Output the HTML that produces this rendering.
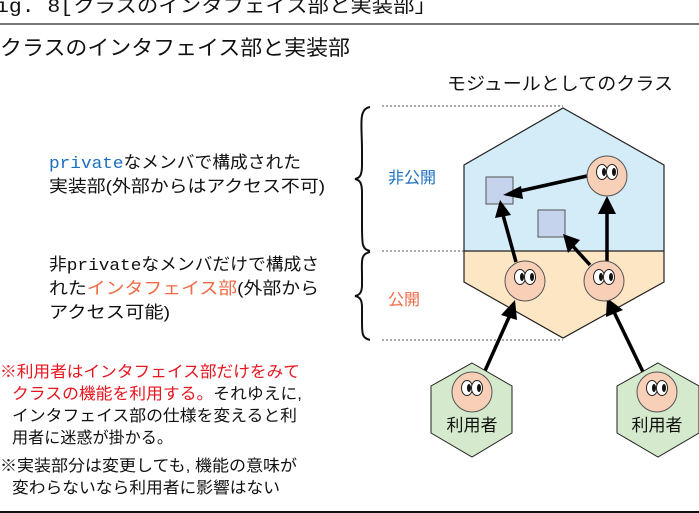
<!DOCTYPE html>
<html><head><meta charset="utf-8"><style>
html,body{margin:0;padding:0;background:#fff;}
svg{display:block;font-family:"Liberation Sans","Noto Sans CJK JP",sans-serif;}
</style></head><body>
<svg width="699" height="513" viewBox="0 0 699 513" xmlns="http://www.w3.org/2000/svg">
<defs>
<g id="face">
<circle r="20" fill="#f8d0b8" stroke="#555" stroke-width="1"/>
<ellipse cx="-5" cy="-4" rx="5.5" ry="7.5" fill="#fff" stroke="#222" stroke-width="1"/>
<ellipse cx="5" cy="-4" rx="5.5" ry="7.5" fill="#fff" stroke="#222" stroke-width="1"/>
<ellipse cx="-3" cy="-4" rx="2" ry="4" fill="#111"/>
<ellipse cx="7" cy="-4" rx="2" ry="4" fill="#111"/>
</g>
</defs>
<text x="-4" y="12" font-size="19" font-family="Liberation Mono,Noto Sans CJK JP,monospace" fill="#111" textLength="440" lengthAdjust="spacingAndGlyphs">ig. 8[クラスのインタフェイス部と実装部」</text>
<line x1="0" y1="24" x2="699" y2="24" stroke="#777" stroke-width="2"/>
<text x="0" y="55" font-size="21" fill="#111" textLength="350" lengthAdjust="spacingAndGlyphs">クラスのインタフェイス部と実装部</text>
<text x="447" y="90" font-size="18" fill="#111" textLength="226" lengthAdjust="spacingAndGlyphs">モジュールとしてのクラス</text>

<g stroke="#777" stroke-width="1.2" stroke-dasharray="2,2">
<line x1="382" y1="106" x2="563" y2="106"/>
<line x1="382" y1="251" x2="464" y2="251"/>
<line x1="382" y1="340" x2="563" y2="340"/>
</g>
<path d="M370,107 C358,109 362,125 362,150 L362,165 C362,175 360,178 355,179 C360,180 362,183 362,193 L362,225 C362,245 362,249 370,251" fill="none" stroke="#111" stroke-width="2"/>
<path d="M370,252 C360,254 362,262 362,275 L362,285 C362,292 360,295 355,296 C360,297 362,300 362,307 L362,322 C362,334 362,338 370,340" fill="none" stroke="#111" stroke-width="2"/>

<polygon points="563,108 664,165 664,251 464,251 464,165" fill="#d4ebf8"/>
<polygon points="464,251 664,251 664,282 563,338 464,282" fill="#fde6c4"/>
<polygon points="563,108 664,165 664,282 563,338 464,282 464,165" fill="none" stroke="#222" stroke-width="1.2"/>
<line x1="464" y1="251" x2="664" y2="251" stroke="#222" stroke-width="1.2"/>

<text x="388" y="183" font-size="16" fill="#1a6fc0">非公開</text>
<text x="388" y="305" font-size="16" fill="#ef6a45">公開</text>

<rect x="486" y="177" width="27" height="27" fill="#c5d3ec" stroke="#555" stroke-width="1"/>
<rect x="538" y="210" width="27" height="27" fill="#c5d3ec" stroke="#555" stroke-width="1"/>

<g stroke="#000" stroke-width="3.5">
<line x1="516" y1="262" x2="503" y2="215"/>
<line x1="590" y1="265" x2="570" y2="243"/>
<line x1="607" y1="262" x2="607" y2="210"/>
<line x1="587" y1="176" x2="520" y2="191"/>
<line x1="484" y1="373" x2="510" y2="315"/>
<line x1="645" y1="376" x2="614" y2="312"/>
</g>
<g fill="#000">
<polygon points="500,200 495,218 511,215"/>
<polygon points="563,234 568,253 580,240"/>
<polygon points="607,196 598,214 616,214"/>
<polygon points="503,195 521,186 523,199"/>
<polygon points="515,300 501,315 517,320"/>
<polygon points="607,298 606,317 623,310"/>
</g>

<use href="#face" x="607" y="176"/>
<use href="#face" x="525" y="281"/>
<use href="#face" x="604" y="281"/>

<polygon points="472,363 512,386 512,433 472,457 431,433 431,386" fill="#d5eacc" stroke="#222" stroke-width="1"/>
<polygon points="658,363 699,386 699,433 658,457 617,433 617,386" fill="#d5eacc" stroke="#222" stroke-width="1"/>
<use href="#face" x="472" y="392"/>
<use href="#face" x="657" y="392"/>
<text x="472" y="431" font-size="17" text-anchor="middle" fill="#111">利用者</text>
<text x="657" y="431" font-size="17" text-anchor="middle" fill="#111">利用者</text>

<g font-size="17" fill="#111">
<text x="49" y="168" textLength="252" lengthAdjust="spacingAndGlyphs"><tspan fill="#1a6fc0" font-family="Liberation Mono,monospace">private</tspan>なメンバで構成された</text>
<text x="49" y="192" textLength="276" lengthAdjust="spacingAndGlyphs">実装部(外部からはアクセス不可)</text>
<text x="49" y="270" textLength="270" lengthAdjust="spacingAndGlyphs">非<tspan font-family="Liberation Mono,monospace">private</tspan>なメンバだけで構成さ</text>
<text x="49" y="294" textLength="270" lengthAdjust="spacingAndGlyphs">れた<tspan fill="#ef6a45">インタフェイス部</tspan>(外部から</text>
<text x="49" y="318" textLength="121" lengthAdjust="spacingAndGlyphs">アクセス可能)</text>
</g>
<g font-size="16" fill="#111">
<text x="0" y="377" fill="#e8141e" textLength="300" lengthAdjust="spacingAndGlyphs">※利用者はインタフェイス部だけをみて</text>
<text x="12" y="399" textLength="290" lengthAdjust="spacingAndGlyphs"><tspan fill="#e8141e">クラスの機能を利用する。</tspan>それゆえに,</text>
<text x="12" y="421" textLength="285" lengthAdjust="spacingAndGlyphs">インタフェイス部の仕様を変えると利</text>
<text x="12" y="443" textLength="161" lengthAdjust="spacingAndGlyphs">用者に迷惑が掛かる。</text>
<text x="0" y="471" textLength="297" lengthAdjust="spacingAndGlyphs">※実装部分は変更しても, 機能の意味が</text>
<text x="12" y="493" textLength="268" lengthAdjust="spacingAndGlyphs">変わらないなら利用者に影響はない</text>
</g>
<line x1="0" y1="512" x2="699" y2="512" stroke="#111" stroke-width="2"/>
</svg>
</body></html>
